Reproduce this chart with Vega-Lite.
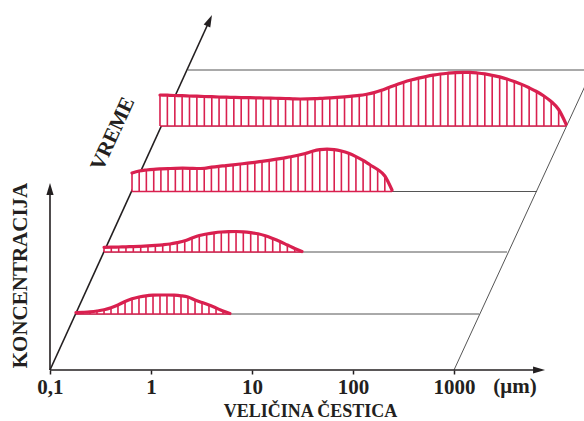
{
  "$schema": "https://vega.github.io/schema/vega-lite/v6.json",
  "width": 584,
  "height": 370,
  "autosize": {"type": "none"},
  "padding": {"left": 0, "top": 0, "right": 0, "bottom": 51},
  "background": "white",
  "config": {"view": {"stroke": null}},
  "datasets": {
    "axes": [
      {"L": -1, "C": 0, "L2": -1, "C2": 17.6},
      {"L": -1, "C": 0, "L2": 3.8, "C2": 0},
      {"L": -1, "C": 0, "L2": 0.559, "C2": 34.5}
    ],
    "levels": [
      {"L": -0.743, "C": 5.6, "L2": 3.248, "C2": 5.6},
      {"L": -0.455, "C": 11.8, "L2": 3.525, "C2": 11.8},
      {"L": -0.198, "C": 17.85, "L2": 3.822, "C2": 17.85},
      {"L": 0.089, "C": 24.4, "L2": 4.109, "C2": 24.4},
      {"L": 0.366, "C": 30.0, "L2": 4.446, "C2": 30.0},
      {"L": 3.0, "C": 0, "L2": 4.416, "C2": 31.0}
    ],
    "curves": [
      {"s":1,"b":5.6,"L":-0.743,"C":5.73},{"s":1,"b":5.6,"L":-0.673,"C":5.77},{"s":1,"b":5.6,"L":-0.604,"C":5.82},{"s":1,"b":5.6,"L":-0.535,"C":5.9},{"s":1,"b":5.6,"L":-0.465,"C":6.02},{"s":1,"b":5.6,"L":-0.396,"C":6.22},{"s":1,"b":5.6,"L":-0.327,"C":6.5},{"s":1,"b":5.6,"L":-0.257,"C":6.85},{"s":1,"b":5.6,"L":-0.188,"C":7.12},{"s":1,"b":5.6,"L":-0.119,"C":7.3},{"s":1,"b":5.6,"L":-0.05,"C":7.42},{"s":1,"b":5.6,"L":0.02,"C":7.48},{"s":1,"b":5.6,"L":0.089,"C":7.5},{"s":1,"b":5.6,"L":0.158,"C":7.5},{"s":1,"b":5.6,"L":0.228,"C":7.48},{"s":1,"b":5.6,"L":0.297,"C":7.42},{"s":1,"b":5.6,"L":0.366,"C":7.3},{"s":1,"b":5.6,"L":0.436,"C":7.0},{"s":1,"b":5.6,"L":0.505,"C":6.75},{"s":1,"b":5.6,"L":0.574,"C":6.5},{"s":1,"b":5.6,"L":0.644,"C":6.2},{"s":1,"b":5.6,"L":0.713,"C":5.9},{"s":1,"b":5.6,"L":0.782,"C":5.65},
      {"s":2,"b":11.8,"L":-0.465,"C":12.27},{"s":2,"b":11.8,"L":-0.393,"C":12.28},{"s":2,"b":11.8,"L":-0.32,"C":12.3},{"s":2,"b":11.8,"L":-0.248,"C":12.32},{"s":2,"b":11.8,"L":-0.175,"C":12.34},{"s":2,"b":11.8,"L":-0.102,"C":12.37},{"s":2,"b":11.8,"L":-0.03,"C":12.41},{"s":2,"b":11.8,"L":0.043,"C":12.46},{"s":2,"b":11.8,"L":0.116,"C":12.52},{"s":2,"b":11.8,"L":0.188,"C":12.6},{"s":2,"b":11.8,"L":0.26,"C":12.74},{"s":2,"b":11.8,"L":0.334,"C":12.92},{"s":2,"b":11.8,"L":0.406,"C":13.2},{"s":2,"b":11.8,"L":0.478,"C":13.45},{"s":2,"b":11.8,"L":0.551,"C":13.6},{"s":2,"b":11.8,"L":0.624,"C":13.72},{"s":2,"b":11.8,"L":0.696,"C":13.8},{"s":2,"b":11.8,"L":0.769,"C":13.84},{"s":2,"b":11.8,"L":0.842,"C":13.85},{"s":2,"b":11.8,"L":0.914,"C":13.82},{"s":2,"b":11.8,"L":0.987,"C":13.74},{"s":2,"b":11.8,"L":1.059,"C":13.62},{"s":2,"b":11.8,"L":1.132,"C":13.42},{"s":2,"b":11.8,"L":1.205,"C":13.15},{"s":2,"b":11.8,"L":1.277,"C":12.85},{"s":2,"b":11.8,"L":1.35,"C":12.5},{"s":2,"b":11.8,"L":1.423,"C":12.15},{"s":2,"b":11.8,"L":1.495,"C":11.85},
      {"s":3,"b":17.85,"L":-0.188,"C":19.7},{"s":3,"b":17.85,"L":-0.117,"C":19.9},{"s":3,"b":17.85,"L":-0.046,"C":20.0},{"s":3,"b":17.85,"L":0.027,"C":20.07},{"s":3,"b":17.85,"L":0.098,"C":20.11},{"s":3,"b":17.85,"L":0.169,"C":20.14},{"s":3,"b":17.85,"L":0.241,"C":20.17},{"s":3,"b":17.85,"L":0.313,"C":20.18},{"s":3,"b":17.85,"L":0.384,"C":20.17},{"s":3,"b":17.85,"L":0.455,"C":20.15},{"s":3,"b":17.85,"L":0.527,"C":20.17},{"s":3,"b":17.85,"L":0.598,"C":20.28},{"s":3,"b":17.85,"L":0.67,"C":20.37},{"s":3,"b":17.85,"L":0.742,"C":20.44},{"s":3,"b":17.85,"L":0.813,"C":20.52},{"s":3,"b":17.85,"L":0.884,"C":20.6},{"s":3,"b":17.85,"L":0.956,"C":20.68},{"s":3,"b":17.85,"L":1.028,"C":20.77},{"s":3,"b":17.85,"L":1.099,"C":20.87},{"s":3,"b":17.85,"L":1.17,"C":20.97},{"s":3,"b":17.85,"L":1.242,"C":21.08},{"s":3,"b":17.85,"L":1.314,"C":21.2},{"s":3,"b":17.85,"L":1.385,"C":21.32},{"s":3,"b":17.85,"L":1.456,"C":21.47},{"s":3,"b":17.85,"L":1.528,"C":21.65},{"s":3,"b":17.85,"L":1.598,"C":21.87},{"s":3,"b":17.85,"L":1.671,"C":22.03},{"s":3,"b":17.85,"L":1.743,"C":22.08},{"s":3,"b":17.85,"L":1.814,"C":22.04},{"s":3,"b":17.85,"L":1.885,"C":21.9},{"s":3,"b":17.85,"L":1.957,"C":21.67},{"s":3,"b":17.85,"L":2.029,"C":21.34},{"s":3,"b":17.85,"L":2.1,"C":20.96},{"s":3,"b":17.85,"L":2.171,"C":20.5},{"s":3,"b":17.85,"L":2.244,"C":20.05},{"s":3,"b":17.85,"L":2.315,"C":19.4},{"s":3,"b":17.85,"L":2.386,"C":18.0},
      {"s":4,"b":24.4,"L":0.089,"C":27.5},{"s":4,"b":24.4,"L":0.162,"C":27.48},{"s":4,"b":24.4,"L":0.236,"C":27.45},{"s":4,"b":24.4,"L":0.308,"C":27.43},{"s":4,"b":24.4,"L":0.381,"C":27.4},{"s":4,"b":24.4,"L":0.454,"C":27.38},{"s":4,"b":24.4,"L":0.528,"C":27.35},{"s":4,"b":24.4,"L":0.602,"C":27.33},{"s":4,"b":24.4,"L":0.674,"C":27.3},{"s":4,"b":24.4,"L":0.747,"C":27.28},{"s":4,"b":24.4,"L":0.82,"C":27.26},{"s":4,"b":24.4,"L":0.893,"C":27.24},{"s":4,"b":24.4,"L":0.966,"C":27.23},{"s":4,"b":24.4,"L":1.04,"C":27.22},{"s":4,"b":24.4,"L":1.112,"C":27.2},{"s":4,"b":24.4,"L":1.185,"C":27.19},{"s":4,"b":24.4,"L":1.258,"C":27.17},{"s":4,"b":24.4,"L":1.332,"C":27.15},{"s":4,"b":24.4,"L":1.405,"C":27.12},{"s":4,"b":24.4,"L":1.478,"C":27.1},{"s":4,"b":24.4,"L":1.55,"C":27.11},{"s":4,"b":24.4,"L":1.624,"C":27.13},{"s":4,"b":24.4,"L":1.697,"C":27.17},{"s":4,"b":24.4,"L":1.77,"C":27.21},{"s":4,"b":24.4,"L":1.844,"C":27.26},{"s":4,"b":24.4,"L":1.916,"C":27.32},{"s":4,"b":24.4,"L":1.989,"C":27.39},{"s":4,"b":24.4,"L":2.062,"C":27.46},{"s":4,"b":24.4,"L":2.136,"C":27.58},{"s":4,"b":24.4,"L":2.209,"C":27.74},{"s":4,"b":24.4,"L":2.282,"C":27.97},{"s":4,"b":24.4,"L":2.354,"C":28.25},{"s":4,"b":24.4,"L":2.428,"C":28.52},{"s":4,"b":24.4,"L":2.501,"C":28.78},{"s":4,"b":24.4,"L":2.574,"C":29.0},{"s":4,"b":24.4,"L":2.648,"C":29.19},{"s":4,"b":24.4,"L":2.72,"C":29.34},{"s":4,"b":24.4,"L":2.793,"C":29.48},{"s":4,"b":24.4,"L":2.866,"C":29.6},{"s":4,"b":24.4,"L":2.94,"C":29.68},{"s":4,"b":24.4,"L":3.013,"C":29.74},{"s":4,"b":24.4,"L":3.086,"C":29.77},{"s":4,"b":24.4,"L":3.158,"C":29.76},{"s":4,"b":24.4,"L":3.232,"C":29.7},{"s":4,"b":24.4,"L":3.305,"C":29.61},{"s":4,"b":24.4,"L":3.378,"C":29.47},{"s":4,"b":24.4,"L":3.452,"C":29.31},{"s":4,"b":24.4,"L":3.524,"C":29.1},{"s":4,"b":24.4,"L":3.597,"C":28.85},{"s":4,"b":24.4,"L":3.67,"C":28.56},{"s":4,"b":24.4,"L":3.744,"C":28.22},{"s":4,"b":24.4,"L":3.817,"C":27.85},{"s":4,"b":24.4,"L":3.89,"C":27.4},{"s":4,"b":24.4,"L":3.962,"C":26.85},{"s":4,"b":24.4,"L":4.036,"C":26.05},{"s":4,"b":24.4,"L":4.109,"C":24.6}
    ]
  },
  "encoding": {
    "x": {
      "field": "L",
      "type": "quantitative",
      "scale": {"domain": [-1.495, 4.287], "nice": false, "zero": false},
      "axis": {
        "orient": "bottom",
        "values": [-1, 0, 1, 2, 3],
        "domain": false,
        "grid": false,
        "ticks": true,
        "tickSize": 4,
        "tickWidth": 1.5,
        "tickColor": "#231f20",
        "labelExpr": "datum.value == -1 ? '0,1' : format(pow(10, datum.value), 'd')",
        "labelFont": "Liberation Serif",
        "labelFontSize": 21,
        "labelFontWeight": "bold",
        "labelColor": "#231f20",
        "labelPadding": 19,
        "labelBaseline": "alphabetic",
        "labelFlush": false,
        "labelOverlap": false,
        "labelBound": false,
        "title": "VELIČINA ČESTICA",
        "titleX": 310,
        "titleY": 46,
        "titleAlign": "center",
        "titleBaseline": "alphabetic",
        "titleFont": "Liberation Serif",
        "titleFontSize": 18,
        "titleFontWeight": "bold",
        "titleColor": "#231f20"
      }
    },
    "y": {
      "field": "C",
      "type": "quantitative",
      "scale": {"domain": [0, 37], "nice": false, "zero": false},
      "axis": {
        "orient": "left",
        "domain": false,
        "ticks": false,
        "labels": false,
        "grid": false,
        "title": "KONCENTRACIJA",
        "titleX": 20,
        "titleY": 275,
        "titleAngle": 270,
        "titleAlign": "center",
        "titleBaseline": "middle",
        "titleFont": "Liberation Serif",
        "titleFontSize": 21,
        "titleFontWeight": "bold",
        "titleColor": "#231f20"
      }
    }
  },
  "layer": [
    {
      "data": {"name": "levels"},
      "mark": {"type": "rule", "color": "#555555", "strokeWidth": 1},
      "encoding": {"x2": {"field": "L2"}, "y2": {"field": "C2"}}
    },
    {
      "data": {"name": "axes"},
      "mark": {"type": "rule", "color": "#231f20", "strokeWidth": 1.6},
      "encoding": {"x2": {"field": "L2"}, "y2": {"field": "C2"}}
    },
    {
      "data": {"name": "curves"},
      "mark": {"type": "area", "color": "white", "interpolate": "monotone"},
      "encoding": {"y2": {"field": "b"}, "detail": {"field": "s"}}
    },
    {
      "data": {"name": "curves"},
      "mark": {"type": "rule", "color": "#d9204f", "strokeWidth": 1.6},
      "encoding": {"y2": {"field": "b"}}
    },
    {
      "data": {"name": "curves"},
      "mark": {"type": "line", "color": "#d9204f", "strokeWidth": 1.5},
      "encoding": {"y": {"field": "b", "type": "quantitative"}, "detail": {"field": "s"}}
    },
    {
      "data": {"name": "curves"},
      "mark": {"type": "line", "color": "#d9204f", "strokeWidth": 3.2, "interpolate": "monotone", "strokeCap": "round"},
      "encoding": {"detail": {"field": "s"}}
    },
    {
      "data": {"values": [{"L": -1, "C": 18.1}]},
      "mark": {"type": "point", "shape": "M0,-1L0.6,1L-0.6,1Z", "filled": true, "color": "#231f20", "opacity": 1, "size": 144, "angle": 0}
    },
    {
      "data": {"values": [{"L": 3.842, "C": 0}]},
      "mark": {"type": "point", "shape": "M0,-1L0.6,1L-0.6,1Z", "filled": true, "color": "#231f20", "opacity": 1, "size": 144, "angle": 90}
    },
    {
      "data": {"values": [{"L": 0.579, "C": 34.95}]},
      "mark": {"type": "point", "shape": "M0,-1L0.6,1L-0.6,1Z", "filled": true, "color": "#231f20", "opacity": 1, "size": 144, "angle": 24.5}
    },
    {
      "data": {"values": [{"t": "VREME", "L": -0.376, "C": 23.6}]},
      "mark": {"type": "text", "angle": -65.5, "align": "center", "baseline": "middle", "font": "Liberation Serif", "fontSize": 21, "fontWeight": "bold", "color": "#231f20"},
      "encoding": {"text": {"field": "t"}}
    },
    {
      "data": {"values": [{"t": "(μm)", "L": 3.604, "C": -2.3}]},
      "mark": {"type": "text", "align": "center", "baseline": "alphabetic", "font": "Liberation Serif", "fontSize": 21, "fontWeight": "bold", "color": "#231f20"},
      "encoding": {"text": {"field": "t"}}
    }
  ]
}
